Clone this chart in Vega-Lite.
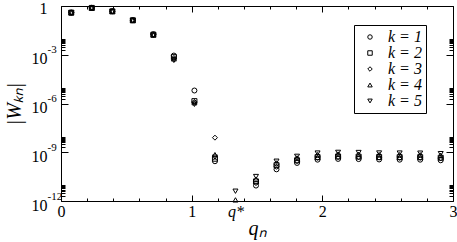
{
  "$schema": "https://vega.github.io/schema/vega-lite/v6.json",
  "width": 392,
  "height": 195,
  "autosize": {"type": "none"},
  "padding": {"left": 61, "top": 6, "right": 4, "bottom": 41},
  "config": {
    "font": "Liberation Serif",
    "view": {"stroke": "black", "strokeWidth": 1},
    "axis": {"domain": false, "grid": false, "tickColor": "black", "labelColor": "black", "labelFont": "Liberation Serif", "titleFont": "Liberation Serif", "titleColor": "black", "labelFlush": false, "labelOverlap": false, "tickWidth": 1},
    "legend": {"labelFont": "Liberation Serif", "titleFont": "Liberation Serif"}
  },
  "data": {"values": [
    {"q":0.0785,"k":"k = 1","W":0.40},{"q":0.0785,"k":"k = 2","W":0.39},{"q":0.0785,"k":"k = 3","W":0.39},{"q":0.0785,"k":"k = 4","W":0.38},{"q":0.0785,"k":"k = 5","W":0.38},
    {"q":0.2356,"k":"k = 1","W":0.78},{"q":0.2356,"k":"k = 2","W":0.76},{"q":0.2356,"k":"k = 3","W":0.76},{"q":0.2356,"k":"k = 4","W":0.75},{"q":0.2356,"k":"k = 5","W":0.74},
    {"q":0.3927,"k":"k = 1","W":0.48},{"q":0.3927,"k":"k = 2","W":0.47},{"q":0.3927,"k":"k = 3","W":0.47},{"q":0.3927,"k":"k = 4","W":0.46},{"q":0.3927,"k":"k = 5","W":0.45},
    {"q":0.5498,"k":"k = 1","W":0.135},{"q":0.5498,"k":"k = 2","W":0.132},{"q":0.5498,"k":"k = 3","W":0.131},{"q":0.5498,"k":"k = 4","W":0.129},{"q":0.5498,"k":"k = 5","W":0.127},
    {"q":0.7069,"k":"k = 1","W":0.0185},{"q":0.7069,"k":"k = 2","W":0.0172},{"q":0.7069,"k":"k = 3","W":0.017},{"q":0.7069,"k":"k = 4","W":0.0165},{"q":0.7069,"k":"k = 5","W":0.016},
    {"q":0.8639,"k":"k = 1","W":8.9e-4},{"q":0.8639,"k":"k = 2","W":7.1e-4},{"q":0.8639,"k":"k = 3","W":6.3e-4},{"q":0.8639,"k":"k = 4","W":5.6e-4},{"q":0.8639,"k":"k = 5","W":4.5e-4},
    {"q":1.0210,"k":"k = 1","W":6.3e-6},{"q":1.0210,"k":"k = 2","W":1.4e-6},{"q":1.0210,"k":"k = 3","W":1.26e-6},{"q":1.0210,"k":"k = 4","W":1.12e-6},{"q":1.0210,"k":"k = 5","W":8.9e-7},
    {"q":1.1781,"k":"k = 1","W":2.8e-10},{"q":1.1781,"k":"k = 2","W":4.0e-10},{"q":1.1781,"k":"k = 3","W":7.9e-9},{"q":1.1781,"k":"k = 4","W":7.1e-10},{"q":1.1781,"k":"k = 5","W":5.0e-10},
    {"q":1.3352,"k":"k = 4","W":1.17e-12},{"q":1.3352,"k":"k = 5","W":4.0e-12},
    {"q":1.4923,"k":"k = 1","W":8.9e-12},{"q":1.4923,"k":"k = 2","W":1.6e-11},{"q":1.4923,"k":"k = 3","W":1.26e-11},{"q":1.4923,"k":"k = 4","W":2.2e-11},{"q":1.4923,"k":"k = 5","W":3.2e-11},
    {"q":1.6493,"k":"k = 1","W":8.9e-11},{"q":1.6493,"k":"k = 2","W":1.6e-10},{"q":1.6493,"k":"k = 3","W":1.26e-10},{"q":1.6493,"k":"k = 4","W":2.2e-10},{"q":1.6493,"k":"k = 5","W":2.8e-10},
    {"q":1.8064,"k":"k = 1","W":2.2e-10},{"q":1.8064,"k":"k = 2","W":3.2e-10},{"q":1.8064,"k":"k = 3","W":2.8e-10},{"q":1.8064,"k":"k = 4","W":4.5e-10},{"q":1.8064,"k":"k = 5","W":5.6e-10},
    {"q":1.9635,"k":"k = 1","W":3.5e-10},{"q":1.9635,"k":"k = 2","W":5.0e-10},{"q":1.9635,"k":"k = 3","W":4.5e-10},{"q":1.9635,"k":"k = 4","W":7.1e-10},{"q":1.9635,"k":"k = 5","W":8.9e-10},
    {"q":2.1206,"k":"k = 1","W":3.9e-10},{"q":2.1206,"k":"k = 2","W":5.5e-10},{"q":2.1206,"k":"k = 3","W":5.0e-10},{"q":2.1206,"k":"k = 4","W":7.8e-10},{"q":2.1206,"k":"k = 5","W":9.8e-10},
    {"q":2.2777,"k":"k = 1","W":3.8e-10},{"q":2.2777,"k":"k = 2","W":5.4e-10},{"q":2.2777,"k":"k = 3","W":4.9e-10},{"q":2.2777,"k":"k = 4","W":7.6e-10},{"q":2.2777,"k":"k = 5","W":9.6e-10},
    {"q":2.4347,"k":"k = 1","W":3.6e-10},{"q":2.4347,"k":"k = 2","W":5.1e-10},{"q":2.4347,"k":"k = 3","W":4.6e-10},{"q":2.4347,"k":"k = 4","W":7.2e-10},{"q":2.4347,"k":"k = 5","W":9.0e-10},
    {"q":2.5918,"k":"k = 1","W":3.5e-10},{"q":2.5918,"k":"k = 2","W":5.0e-10},{"q":2.5918,"k":"k = 3","W":4.5e-10},{"q":2.5918,"k":"k = 4","W":7.1e-10},{"q":2.5918,"k":"k = 5","W":8.9e-10},
    {"q":2.7489,"k":"k = 1","W":3.5e-10},{"q":2.7489,"k":"k = 2","W":5.0e-10},{"q":2.7489,"k":"k = 3","W":4.5e-10},{"q":2.7489,"k":"k = 4","W":7.0e-10},{"q":2.7489,"k":"k = 5","W":8.8e-10},
    {"q":2.9060,"k":"k = 1","W":3.2e-10},{"q":2.9060,"k":"k = 2","W":4.6e-10},{"q":2.9060,"k":"k = 3","W":4.2e-10},{"q":2.9060,"k":"k = 4","W":6.5e-10},{"q":2.9060,"k":"k = 5","W":8.2e-10}
  ]},
  "layer": [
    {
      "mark": {"type": "point", "filled": false, "color": "black", "strokeWidth": 1, "size": 25, "opacity": 1},
      "encoding": {
        "x": {"field": "q", "type": "quantitative", "scale": {"domain": [0, 3], "nice": false, "zero": false},
          "axis": {"orient": "bottom", "values": [0, 1, 1.3352, 2, 3],
            "labelExpr": "datum.value > 1.3 && datum.value < 1.4 ? 'q*' : format(datum.value, 'd')",
            "tickSize": -6, "tickOpacity": {"condition": {"test": "datum.value > 1.3 && datum.value < 1.4", "value": 0}, "value": 1},
            "labelFontSize": 16, "labelFontStyle": {"condition": {"test": "datum.value > 1.3 && datum.value < 1.4", "value": "italic"}, "value": "normal"},
            "labelPadding": 8, "title": "qₙ", "titleFontSize": 20, "titleFontStyle": "italic", "titleFontWeight": "normal", "titlePadding": -1}},
        "y": {"field": "W", "type": "quantitative", "scale": {"type": "log", "domain": [1e-12, 1], "nice": false},
          "axis": {"orient": "left", "values": [1e-12, 1e-9, 1e-6, 1e-3, 1],
            "labelExpr": "datum.value > 0.5 ? '1' : '10'",
            "tickSize": -7, "labelFontSize": 16, "labelPadding": 21,
            "labelOffset": {"condition": {"test": "datum.value > 0.5", "value": 2}, "value": 4},
            "title": "|Wₖₙ|", "titleFontSize": 20, "titleFontStyle": "italic", "titleFontWeight": "normal", "titlePadding": 7}},
        "shape": {"field": "k", "type": "nominal",
          "scale": {"domain": ["k = 1", "k = 2", "k = 3", "k = 4", "k = 5"], "range": ["circle", "square", "diamond", "triangle-up", "triangle-down"]},
          "legend": {"title": null, "orient": "none", "legendX": 293, "legendY": 19, "strokeColor": "black", "fillColor": "white", "padding": 4,
            "labelFontSize": 16, "labelFontStyle": "italic", "labelFont": "Liberation Serif", "labelColor": "black", "labelOffset": 10,
            "symbolSize": 20, "symbolStrokeColor": "black", "symbolStrokeWidth": 1, "rowPadding": -1.5, "symbolOffset": 4}}
      }
    },
    {
      "mark": {"type": "point", "opacity": 0},
      "encoding": {
        "x": {"field": "q", "type": "quantitative", "scale": {"domain": [0, 3], "nice": false, "zero": false},
          "axis": {"orient": "bottom", "values": [0.2, 0.4, 0.6, 0.8, 1.2, 1.4, 1.6, 1.8, 2.2, 2.4, 2.6, 2.8], "labels": false, "tickSize": -3, "title": null}},
        "y": {"field": "W", "type": "quantitative", "scale": {"type": "log", "domain": [1e-12, 1], "nice": false},
          "axis": {"orient": "left", "values": [1e-12, 1e-9, 1e-6, 1e-3],
            "labelExpr": "datum.value > 1e-4 ? '-3' : datum.value > 1e-7 ? '-6' : datum.value > 1e-10 ? '-9' : '-12'",
            "tickSize": -7, "tickOpacity": 0, "labelFontSize": 11, "labelAlign": "left", "labelPadding": 21, "labelOffset": -5, "title": null}}
      }
    },
    {
      "mark": {"type": "point", "opacity": 0},
      "encoding": {
        "x": {"field": "q", "type": "quantitative", "scale": {"domain": [0, 3], "nice": false, "zero": false},
          "axis": {"orient": "top", "values": [0, 1, 2, 3], "labels": false, "tickSize": -6, "title": null}},
        "y": {"field": "W", "type": "quantitative", "scale": {"type": "log", "domain": [1e-12, 1], "nice": false},
          "axis": {"orient": "left", "values": [2e-12,3e-12,4e-12,5e-12,6e-12,7e-12,8e-12,9e-12,2e-9,3e-9,4e-9,5e-9,6e-9,7e-9,8e-9,9e-9,2e-6,3e-6,4e-6,5e-6,6e-6,7e-6,8e-6,9e-6,2e-3,3e-3,4e-3,5e-3,6e-3,7e-3,8e-3,9e-3], "labels": false, "tickSize": -4, "title": null}}
      }
    },
    {
      "mark": {"type": "point", "opacity": 0},
      "encoding": {
        "x": {"field": "q", "type": "quantitative", "scale": {"domain": [0, 3], "nice": false, "zero": false},
          "axis": {"orient": "top", "values": [0.2, 0.4, 0.6, 0.8, 1.2, 1.4, 1.6, 1.8, 2.2, 2.4, 2.6, 2.8], "labels": false, "tickSize": -3, "title": null}},
        "y": {"field": "W", "type": "quantitative", "scale": {"type": "log", "domain": [1e-12, 1], "nice": false},
          "axis": {"orient": "right", "values": [1e-12, 1e-9, 1e-6, 1e-3, 1], "labels": false, "tickSize": -7, "title": null}}
      }
    },
    {
      "mark": {"type": "point", "opacity": 0},
      "encoding": {
        "x": {"field": "q", "type": "quantitative", "scale": {"domain": [0, 3], "nice": false, "zero": false}, "axis": null},
        "y": {"field": "W", "type": "quantitative", "scale": {"type": "log", "domain": [1e-12, 1], "nice": false},
          "axis": {"orient": "right", "values": [2e-12,3e-12,4e-12,5e-12,6e-12,7e-12,8e-12,9e-12,2e-9,3e-9,4e-9,5e-9,6e-9,7e-9,8e-9,9e-9,2e-6,3e-6,4e-6,5e-6,6e-6,7e-6,8e-6,9e-6,2e-3,3e-3,4e-3,5e-3,6e-3,7e-3,8e-3,9e-3], "labels": false, "tickSize": -4, "title": null}}
      }
    }
  ],
  "resolve": {"axis": {"x": "independent", "y": "independent"}}
}
